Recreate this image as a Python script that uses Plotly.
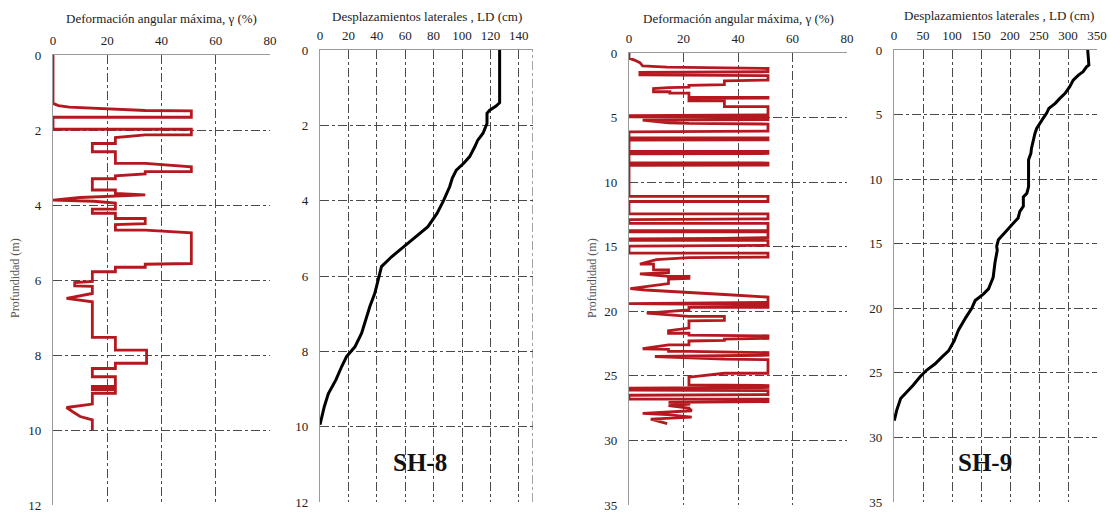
import plotly.graph_objects as go

# ---------------- DATA ----------------
# SH-8 : maximum angular deformation (gamma %, depth m)
sh8_gamma = [0, 0, 2, 6, 34, 51, 51, 0, 0, 51, 51, 34, 23, 23, 14.5, 14.5, 23, 23, 34, 51, 51, 34, 34, 23, 23,
             14.5, 14.5, 23, 23, 34, 10, 0, 15, 23, 23, 14.5, 14.5, 23, 23, 34, 34, 23, 23, 34, 51, 51, 34, 34,
             23, 23, 14.5, 14.5, 8, 8, 14.5, 14.5, 5, 14.5, 14.5, 23, 23, 34.5, 34.5, 23, 23, 14.5, 14.5, 23,
             23, 14.5, 14.5, 23, 23, 14.5, 14.5, 5, 7, 10, 14.5, 14.5]
sh8_gamma_depth = [0, 1.29, 1.35, 1.39, 1.48, 1.49, 1.66, 1.66, 1.98, 1.98, 2.13, 2.13, 2.2, 2.36, 2.36, 2.58,
                   2.58, 2.89, 2.89, 2.98, 3.11, 3.11, 3.17, 3.22, 3.3, 3.3, 3.6, 3.6, 3.69, 3.73, 3.8, 3.87,
                   3.9, 3.95, 4.11, 4.11, 4.22, 4.22, 4.36, 4.36, 4.5, 4.52, 4.67, 4.67, 4.74, 5.56, 5.58, 5.66,
                   5.66, 5.78, 5.78, 6.04, 6.07, 6.16, 6.17, 6.36, 6.49, 6.58, 7.53, 7.53, 7.87, 7.87, 8.22,
                   8.22, 8.36, 8.36, 8.58, 8.58, 8.84, 8.84, 8.92, 8.92, 9.02, 9.02, 9.31, 9.4, 9.5, 9.64, 9.73,
                   10.0]

# SH-8 : lateral displacement (cm, depth m)
sh8_ld = [126.5, 126.5, 124, 119.5, 117.6, 117.6, 114.8, 111, 109, 105.4, 101.4, 96, 93.2, 91.3, 87, 82.4,
          76, 70.3, 59.7, 50.4, 43.3, 41, 38.6, 35.1, 32.3, 29.3, 24.6, 18.7, 15.2, 11.2, 5.9, 3.0, 0]
sh8_ld_depth = [0, 1.4, 1.49, 1.6, 1.68, 1.95, 2.21, 2.4, 2.57, 2.83, 3.0, 3.19, 3.4, 3.63, 4.0, 4.34, 4.69,
                4.87, 5.22, 5.49, 5.75, 6.1, 6.46, 6.81, 7.17, 7.52, 7.88, 8.14, 8.41, 8.76, 9.12, 9.47, 9.95]

# SH-9 : maximum angular deformation (gamma %, depth m)
sh9_gamma = [0, 0, 2, 4, 5, 14, 51, 51, 4, 4, 51, 51, 35, 35, 22, 22, 14.5, 9, 9, 15, 15, 22, 22, 51, 51, 22,
             22, 35, 35, 51, 51, 0, 0, 51, 51, 5, 14.5, 22, 51, 51, 0, 0, 51, 51, 0, 0, 51, 51, 0, 0, 51, 51, 0,
             0, 51, 51, 0, 0, 51, 51, 0, 0, 51, 51, 0, 0, 51, 51, 34, 0, 0, 51, 51, 0, 0, 51, 51, 22, 10, 4, 9,
             9, 14.5, 14.5, 4, 14.5, 22, 22, 14.5, 14.5, 0.5, 6, 35, 51, 51, 0, 51, 51, 22, 22, 6.5, 22, 35,
             35, 22, 22, 14.5, 14.5, 22, 22, 51, 51, 35, 35, 22, 22, 14.5, 5, 14.5, 14.5, 22, 51, 51, 9.5, 35,
             51, 51, 35, 22, 22, 51, 51, 0, 0, 51, 51, 0, 0, 51, 51, 14.5, 22, 22, 14.5, 22, 23, 5, 14, 23, 8,
             14]
sh9_gamma_depth = [0, 0.4, 0.55, 0.75, 1.0, 1.1, 1.2, 1.45, 1.5, 1.7, 1.75, 2.1, 2.15, 2.45, 2.5, 2.65, 2.68,
                   2.75, 3.0, 3.0, 3.1, 3.1, 3.42, 3.44, 3.5, 3.52, 3.7, 3.7, 4.16, 4.16, 4.8, 4.85, 4.95,
                   5.0, 5.15, 5.2, 5.4, 5.45, 5.5, 6.05, 6.1, 6.55, 6.58, 6.72, 6.75, 7.6, 7.62, 7.78, 7.8,
                   8.5, 8.52, 8.68, 8.7, 11.1, 11.1, 11.5, 11.5, 12.45, 12.45, 12.85, 12.9, 13.2, 13.2, 13.75,
                   13.75, 13.85, 13.85, 14.3, 14.35, 14.4, 14.5, 14.5, 14.9, 14.95, 15.5, 15.5, 15.8, 15.85,
                   16.0, 16.35, 16.35, 16.8, 16.8, 17.0, 17.1, 17.3, 17.3, 17.45, 17.5, 17.85, 18.25, 18.35,
                   18.7, 18.9, 19.3, 19.4, 19.5, 19.7, 19.7, 19.9, 20.15, 20.4, 20.4, 20.7, 20.75, 21.3, 21.5,
                   21.7, 21.7, 21.85, 21.9, 22.1, 22.15, 22.25, 22.3, 22.6, 22.6, 22.9, 22.95, 23.1, 23.1,
                   23.2, 23.4, 23.5, 23.7, 23.75, 24.8, 24.8, 25.1, 25.7, 25.75, 25.9, 25.95, 26.1, 26.15,
                   26.45, 26.5, 26.8, 26.8, 27.0, 27.05, 27.1, 27.2, 27.3, 27.5, 27.7, 27.9, 28.0, 28.2, 28.35,
                   28.7]

# SH-9 : lateral displacement (cm, depth m)
sh9_ld = [334, 336, 332, 326, 318, 309, 303, 295, 286, 278, 267, 263, 257, 252, 246, 243, 240, 237, 236, 232,
          232, 232, 229, 223, 223, 217, 214, 206, 194, 186, 180, 177, 178, 174, 171, 163, 154, 140, 134, 124,
          111, 104, 94, 82, 71, 56, 45, 33, 19, 11.5, 4.6, 0.5]
sh9_ld_depth = [0, 1.16, 1.3, 1.68, 1.94, 2.33, 2.84, 3.36, 3.75, 4.13, 4.52, 4.9, 5.3, 5.68, 6.07, 6.46,
                6.98, 7.62, 8.0, 8.5, 9.56, 10.6, 11.1, 11.37, 12.1, 12.5, 13.0, 13.4, 13.95, 14.34, 14.7,
                15.2, 15.5, 16.5, 17.6, 18.5, 18.9, 19.4, 20.0, 20.7, 21.7, 22.5, 23.3, 23.8, 24.3, 24.8,
                25.3, 25.96, 26.6, 26.99, 27.9, 28.7]

gamma_title = "Deformación angular máxima, γ (%)"
ld_title = "Desplazamientos laterales , LD (cm)"
depth_title = "Profundidad (m)"
labels = ["SH-8", "SH-9"]

# ---------------- FIGURE ----------------
W, H = 1111, 512
RED = "#B3191F"
FONT = "Liberation Serif, Times New Roman, serif"

fig = go.Figure()
fig.add_trace(go.Scatter(x=sh8_gamma, y=sh8_gamma_depth, mode="lines",
                         line=dict(color=RED, width=2.8), xaxis="x", yaxis="y"))
fig.add_trace(go.Scatter(x=sh8_ld, y=sh8_ld_depth, mode="lines",
                         line=dict(color="black", width=3), xaxis="x2", yaxis="y2"))
fig.add_trace(go.Scatter(x=sh9_gamma, y=sh9_gamma_depth, mode="lines",
                         line=dict(color=RED, width=2.8), xaxis="x3", yaxis="y3"))
fig.add_trace(go.Scatter(x=sh9_ld, y=sh9_ld_depth, mode="lines",
                         line=dict(color="black", width=3), xaxis="x4", yaxis="y4"))


def px_x(p):
    return p / W


def px_y(p):
    return 1 - p / H


panels = [
    # (x0px, x1px, ytop, ybottom, xrange, xdtick, yrange, ydtick)
    (53, 270, 55, 505, [0, 80], 20, [12, 0], 2),
    (320, 533, 50, 502, [0, 150], 20, [12, 0], 2),
    (629, 847, 53, 505, [0, 80], 20, [35, 0], 5),
    (894, 1097, 50, 502, [0, 350], 50, [35, 0], 5),
]

GRID = "#4a4a4a"
tickfont = dict(family=FONT, size=13, color="#222")
for i, (x0, x1, yt, yb, xr, xd, yr, yd) in enumerate(panels):
    sfx = "" if i == 0 else str(i + 1)
    fig.layout["xaxis" + sfx] = dict(
        domain=[px_x(x0), px_x(x1)], range=xr, dtick=xd, tick0=0, side="top",
        anchor="y" + sfx, showgrid=True, gridcolor=GRID, griddash="dashdot", gridwidth=1,
        showline=True, linecolor="#9a9a9a", linewidth=1.2, zeroline=False, automargin=False,
        ticks="", ticklabelstandoff=4, tickfont=tickfont, fixedrange=True,
        ticklabeloverflow="allow",
    )
    fig.layout["yaxis" + sfx] = dict(
        domain=[px_y(yb), px_y(yt)], range=yr, dtick=yd, tick0=0,
        anchor="x" + sfx, showgrid=True, gridcolor=GRID, griddash="dashdot", gridwidth=1,
        showline=True, linecolor="#9a9a9a", linewidth=1.2, zeroline=False, automargin=False,
        ticks="", ticklabelstandoff=8, tickfont=tickfont, fixedrange=True,
        ticklabeloverflow="allow",
    )

# right border of SH-8 LD panel (no tick at 150)
fig.add_shape(type="line", xref="x2", yref="y2 domain", x0=150, x1=150, y0=0, y1=1,
              line=dict(color=GRID, width=1, dash="dashdot"))

annots = [
    (161, 18, gamma_title), (427, 16, ld_title), (738, 18, gamma_title), (999, 15, ld_title),
]
for cx, cy, t in annots:
    fig.add_annotation(x=px_x(cx), y=px_y(cy), xref="paper", yref="paper", text=t,
                       showarrow=False, font=dict(family=FONT, size=13, color="#222"),
                       xanchor="center", yanchor="middle")

for cx, cy in [(15, 278), (592, 278)]:
    fig.add_annotation(x=px_x(cx), y=px_y(cy), xref="paper", yref="paper", text=depth_title,
                       showarrow=False, textangle=-90, font=dict(family=FONT, size=12, color="#555"),
                       xanchor="center", yanchor="middle")

for (cx, cy), t in zip([(420, 462), (985, 462)], labels):
    fig.add_annotation(x=px_x(cx), y=px_y(cy), xref="paper", yref="paper", text="<b>" + t + "</b>",
                       showarrow=False, font=dict(family=FONT, size=25, color="#111"),
                       xanchor="center", yanchor="middle")

fig.update_layout(
    width=W, height=H, margin=dict(l=0, r=0, t=0, b=0),
    paper_bgcolor="white", plot_bgcolor="white", showlegend=False,
)

fig.write_html("out.html", config={"displayModeBar": False},
               post_script="document.body.style.margin='0';document.body.style.overflow='hidden';")
